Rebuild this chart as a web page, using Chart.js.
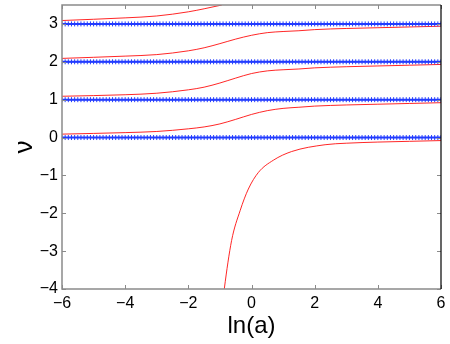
<!DOCTYPE html>
<html>
<head>
<meta charset="utf-8">
<script src="https://cdn.jsdelivr.net/npm/chart.js@4"></script>
<style>
  body { margin: 0; background: #fff; }
  canvas { display: block; }
</style>
</head>
<body>
<canvas id="chart" width="450" height="344"></canvas>
<script>
// ---- data ----
const xTicks = [-6, -4, -2, 0, 2, 4, 6];
const yTicks = [-4, -3, -2, -1, 0, 1, 2, 3];

// blue levels (integers) drawn with dense markers
const blueLevels = [0, 1, 2, 3];
const markerStep = 0.1;

// red branches
const branchX = [-6, -4, -3, -2, -1.5, -1, -0.5, 0, 0.5, 1, 1.5, 2, 3, 4, 5, 6];
const branch0 = [0.09, 0.13, 0.16, 0.23, 0.28, 0.36, 0.48, 0.61, 0.71, 0.77, 0.80, 0.83, 0.86, 0.88, 0.90, 0.92];
const branch1 = [1.09, 1.13, 1.17, 1.26, 1.33, 1.44, 1.57, 1.69, 1.76, 1.79, 1.81, 1.84, 1.87, 1.89, 1.91, 1.93];
const branch2 = [2.09, 2.15, 2.19, 2.29, 2.37, 2.48, 2.60, 2.70, 2.77, 2.80, 2.82, 2.85, 2.88, 2.90, 2.92, 2.94];

const topX = [-6, -4, -3, -2, -1.5, -0.94];
const topY = [3.09, 3.16, 3.21, 3.32, 3.40, 3.50];

const lowX = [-0.95, -0.86, -0.63, -0.36, -0.1, 0.22, 0.69, 1.27, 2.33, 3, 4, 5, 6];
const lowY = [-4.65, -3.99, -2.72, -1.93, -1.36, -0.92, -0.60, -0.37, -0.19, -0.15, -0.12, -0.10, -0.08];

function pts(xs, ys) {
  return xs.map((x, i) => ({ x: x, y: ys[i] }));
}

const markerX = [];
for (let x = -6; x <= 6.0001; x += markerStep) markerX.push(Math.round(x * 10) / 10);

const RED = "rgba(255,0,0,0.85)";
const BLUE = "rgb(35,60,255)";

const datasets = [];
blueLevels.forEach(n => {
  datasets.push({
    data: markerX.map(x => ({ x: x, y: n })),
    borderColor: BLUE,
    backgroundColor: BLUE,
    borderWidth: 2,
    pointStyle: "cross",
    pointRadius: 2.5,
    pointBorderWidth: 1,
    order: 0
  });
});

[pts(branchX, branch0), pts(branchX, branch1), pts(branchX, branch2), pts(topX, topY), pts(lowX, lowY)]
  .forEach(d => {
    datasets.push({
      data: d,
      borderColor: RED,
      borderWidth: 1,
      pointRadius: 0,
      cubicInterpolationMode: "monotone",
      order: 1
    });
  });

// ---- frame with inward ticks (matlab style) ----
const framePlugin = {
  id: "frame",
  afterDatasetsDraw(chart) {
    const { ctx, chartArea: a, scales } = chart;
    const tl = 4;
    ctx.save();
    ctx.strokeStyle = "#8a8a8a";
    ctx.lineWidth = 1;
    xTicks.forEach(v => {
      const px = Math.round(scales.x.getPixelForValue(v)) + 0.5;
      ctx.beginPath();
      ctx.moveTo(px, a.bottom); ctx.lineTo(px, a.bottom - tl);
      ctx.moveTo(px, a.top); ctx.lineTo(px, a.top + tl);
      ctx.stroke();
    });
    yTicks.forEach(v => {
      const py = Math.round(scales.y.getPixelForValue(v)) + 0.5;
      ctx.beginPath();
      ctx.moveTo(a.left, py); ctx.lineTo(a.left + tl, py);
      ctx.moveTo(a.right, py); ctx.lineTo(a.right - tl, py);
      ctx.stroke();
    });
    ctx.lineWidth = 1.5;
    ctx.beginPath();
    ctx.moveTo(a.right, a.top);
    ctx.lineTo(a.left, a.top);
    ctx.lineTo(a.left, a.bottom);
    ctx.lineTo(a.right, a.bottom);
    ctx.stroke();
    ctx.strokeStyle = "#000";
    ctx.lineWidth = 1.2;
    ctx.beginPath();
    ctx.moveTo(a.right, a.top);
    ctx.lineTo(a.right, a.bottom);
    ctx.stroke();
    ctx.restore();
  }
};

const FONT = "'Liberation Sans', Arial, Helvetica, sans-serif";

new Chart(document.getElementById("chart").getContext("2d"), {
  type: "scatter",
  data: { datasets: datasets },
  plugins: [framePlugin],
  options: {
    responsive: false,
    animation: false,
    showLine: true,
    layout: { padding: { top: 4, right: 9, left: 0, bottom: 0 } },
    plugins: { legend: { display: false }, tooltip: { enabled: false } },
    scales: {
      x: {
        type: "linear",
        min: -6,
        max: 6,
        grid: { display: false, drawTicks: false },
        border: { display: false },
        afterBuildTicks: s => { s.ticks = xTicks.map(v => ({ value: v })); },
        afterFit: s => { s.height = 55; s.paddingLeft = 0; s.paddingRight = 0; },
        ticks: {
          padding: 5,
          color: "#000",
          font: { family: FONT, size: 16 },
          maxRotation: 0,
          callback: v => String(v).replace("-", "\u2212")
        },
        title: {
          display: true,
          text: "ln(a)",
          color: "#000",
          font: { family: FONT, size: 24 },
          padding: { top: 0, bottom: 3 }
        }
      },
      y: {
        type: "linear",
        min: -4,
        max: 3.5,
        grid: { display: false, drawTicks: false },
        border: { display: false },
        afterBuildTicks: s => { s.ticks = yTicks.map(v => ({ value: v })); },
        afterFit: s => { s.width = 62; s.paddingTop = 0; s.paddingBottom = 0; },
        ticks: {
          padding: 4,
          color: "#000",
          font: { family: FONT, size: 16 },
          callback: v => String(v).replace("-", "\u2212")
        },
        title: {
          display: true,
          text: "\u03bd",
          color: "#000",
          font: { family: FONT, size: 26 },
          padding: { top: 9, bottom: 0 }
        }
      }
    }
  }
});
</script>
</body>
</html>
